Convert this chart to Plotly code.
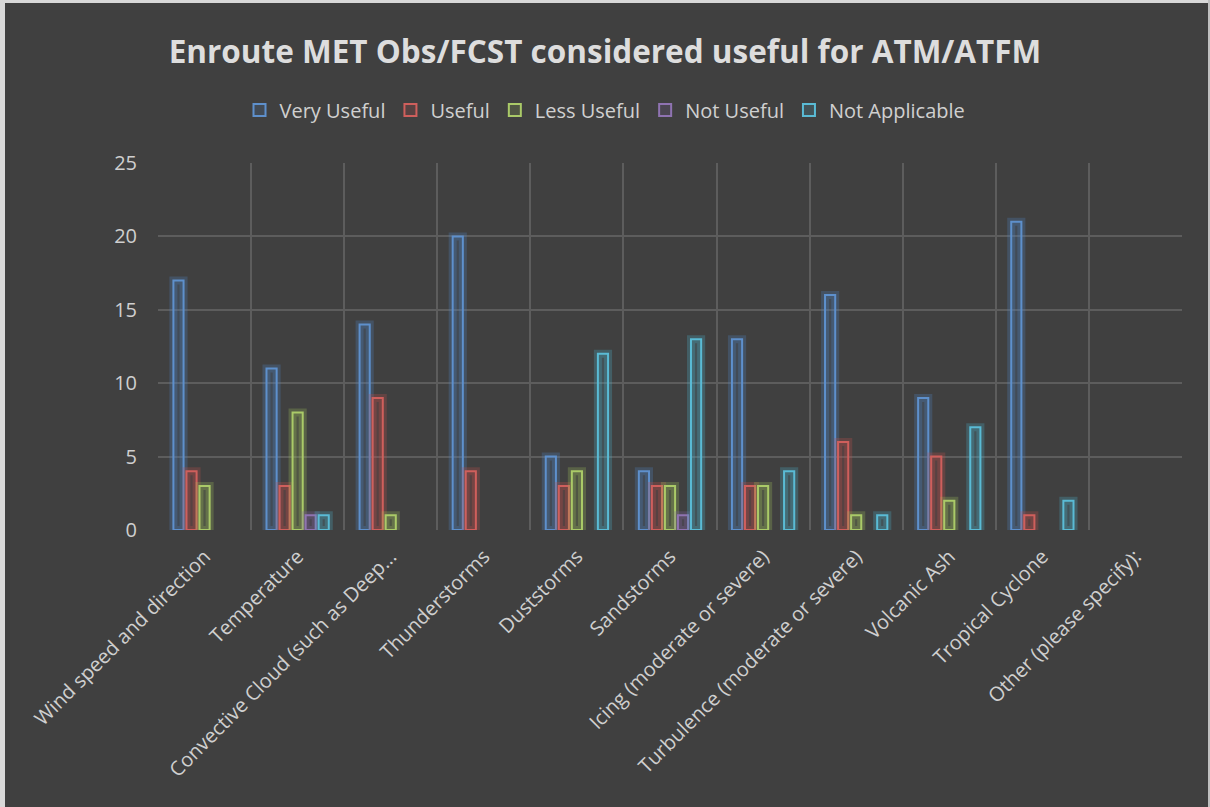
import plotly.graph_objects as go

categories = ["Wind speed and direction", "Temperature", "Convective Cloud (such as Deep...",
              "Thunderstorms", "Duststorms", "Sandstorms", "Icing (moderate or severe)",
              "Turbulence (moderate or severe)", "Volcanic Ash", "Tropical Cyclone",
              "Other (please specify):"]
very_useful = [17, 11, 14, 20, 5, 4, 13, 16, 9, 21, 0]
useful = [4, 3, 9, 4, 3, 3, 3, 6, 5, 1, 0]
less_useful = [3, 8, 1, 0, 4, 3, 3, 1, 2, 0, 0]
not_useful = [0, 1, 0, 0, 0, 1, 0, 0, 0, 0, 0]
not_applicable = [0, 1, 0, 0, 12, 13, 4, 1, 7, 2, 0]

series = [
    ("Very Useful", very_useful, (79, 129, 189)),
    ("Useful", useful, (192, 80, 77)),
    ("Less Useful", less_useful, (155, 187, 89)),
    ("Not Useful", not_useful, (128, 100, 162)),
    ("Not Applicable", not_applicable, (75, 172, 198)),
]

W, H = 1210, 807
L, R, T, B = 158, 28, 163, 277

fig = go.Figure()
for name, vals, (r, g, b) in series:
    yv = [v if v else None for v in vals]
    # soft glow behind the bar outline
    fig.add_trace(go.Bar(
        name=name, x=categories, y=yv, offsetgroup=name, showlegend=False, hoverinfo="skip",
        marker=dict(color="rgba(0,0,0,0)", line=dict(color=f"rgba({r},{g},{b},0.28)", width=8)),
    ))
    fig.add_trace(go.Bar(
        name=name, x=categories, y=yv, offsetgroup=name,
        marker=dict(color=f"rgba({r},{g},{b},0.18)",
                    line=dict(color=f"rgb({min(r+15,255)},{min(g+15,255)},{min(b+15,255)})", width=2)),
    ))

pw = W - L - R
ph = H - T - B
def px(p):
    return (p - L) / pw
def py(p):
    return 1 - (p - T) / ph

fig.update_layout(
    width=W, height=H,
    margin=dict(l=L, r=R, t=T, b=B, autoexpand=False),
    paper_bgcolor="#404040",
    plot_bgcolor="#404040",
    barmode="group",
    bargap=0.3,
    bargroupgap=0.22,
    title=dict(text="<b>Enroute MET Obs/FCST considered useful for ATM/ATFM</b>",
               x=0.5, xref="container", xanchor="center", y=1 - 52 / H, yanchor="middle",
               font=dict(family="Open Sans", size=31.5, color="#dddddd")),
    legend=dict(orientation="h", x=0.5, xanchor="center", xref="container",
                y=1 - 110 / H, yref="container", yanchor="middle",
                font=dict(family="Open Sans", size=20, color="#d0d0d0"),
                itemwidth=30, traceorder="normal", bgcolor="rgba(0,0,0,0)"),
    xaxis=dict(range=[-0.5, 10.5], tickson="boundaries", showgrid=True, automargin=False,
               gridcolor="#5d5d5d", gridwidth=1.5, ticks="", tickangle=-45,
               tickfont=dict(family="Open Sans", size=20, color="#cfcfcf"),
               ticklabelstandoff=10, showline=False, zeroline=False),
    yaxis=dict(range=[0, 25], dtick=5, showgrid=True, gridcolor="#5d5d5d", gridwidth=1.5,
               automargin=False,
               tickfont=dict(family="Open Sans", size=20, color="#cfcfcf"),
               ticks="", ticklabelstandoff=20, zeroline=True, zerolinecolor="#404040",
               zerolinewidth=1, showline=False),
    showlegend=True,
    shapes=[
        dict(type="line", xref="paper", yref="paper", x0=px(0), x1=px(W), y0=py(1.5), y1=py(1.5),
             line=dict(color="#d9d9d9", width=3)),
        dict(type="line", xref="paper", yref="paper", x0=px(2.5), x1=px(2.5), y0=py(0), y1=py(H),
             line=dict(color="#d9d9d9", width=5)),
        dict(type="line", xref="paper", yref="paper", x0=px(1209), x1=px(1209), y0=py(0), y1=py(H),
             line=dict(color="#bfbfbf", width=2)),
    ],
)

fig.write_html("out.html", config={"displayModeBar": False},
               post_script="document.body.style.margin='0';document.body.style.overflow='hidden';")
